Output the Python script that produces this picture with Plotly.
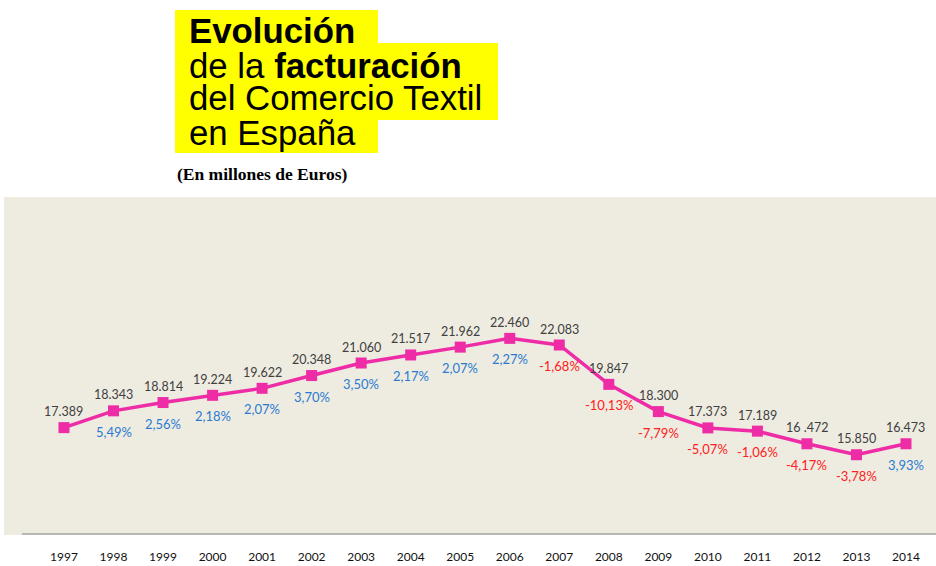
import plotly.graph_objects as go

# ---------------- data ----------------
anios = [1997, 1998, 1999, 2000, 2001, 2002, 2003, 2004, 2005, 2006,
         2007, 2008, 2009, 2010, 2011, 2012, 2013, 2014]
facturacion = [17389, 18343, 18814, 19224, 19622, 20348, 21060, 21517, 21962, 22460,
               22083, 19847, 18300, 17373, 17189, 16472, 15850, 16473]
etiquetas_valor = ["17.389", "18.343", "18.814", "19.224", "19.622", "20.348", "21.060",
                   "21.517", "21.962", "22.460", "22.083", "19.847", "18.300", "17.373",
                   "17.189", "16 .472", "15.850", "16.473"]
variacion = [None, 5.49, 2.56, 2.18, 2.07, 3.70, 3.50, 2.17, 2.07, 2.27,
             -1.68, -10.13, -7.79, -5.07, -1.06, -4.17, -3.78, 3.93]
etiquetas_anio = [str(a) for a in anios]

# ---------------- layout geometry (pixels) ----------------
W, H = 936, 566
PL, PR, PT, PB = 4, 936, 197, 535


def px(x):
    return (x - PL) / (PR - PL)


def py(y):
    return (PB - y) / (PB - PT)


fig = go.Figure()
fig.add_trace(go.Scatter(
    x=anios, y=facturacion, mode="lines+markers",
    line=dict(color="#EE2CA6", width=3.5),
    marker=dict(symbol="square", size=11, color="#EE2CA6"),
    hoverinfo="skip", showlegend=False,
))

annotations = []
lab_font = "Lato, Open Sans, sans-serif"
for a, v, t in zip(anios, facturacion, etiquetas_valor):
    annotations.append(dict(x=a, y=v, xref="x", yref="y", text=t, showarrow=False,
                            yshift=16, font=dict(family=lab_font, size=12.5, color="#404040")))
for a, v, p in zip(anios, facturacion, variacion):
    if p is None:
        continue
    txt = f"{p:.2f}".replace(".", ",") + "%"
    col = "#2A7BD0" if p >= 0 else "#FF2020"
    annotations.append(dict(x=a, y=v, xref="x", yref="y", text=txt, showarrow=False,
                            yshift=-21, font=dict(family=lab_font, size=13, color=col)))

# title block
title_font = "Liberation Sans, Arial, sans-serif"
title_lines = [("<b>Evolución</b>", 30), ("de la <b>facturación</b>", 65),
               ("del Comercio Textil", 98), ("en España", 132)]
for txt, yc in title_lines:
    annotations.append(dict(x=px(187), y=py(yc), xref="paper", yref="paper", text=txt,
                            showarrow=False, xanchor="left", yanchor="middle",
                            font=dict(family=title_font, size=34.8, color="#000000")))
annotations.append(dict(x=px(262), y=py(174), xref="paper", yref="paper",
                        text="<b>(En millones de Euros)</b>", showarrow=False,
                        xanchor="center", yanchor="middle",
                        font=dict(family="Liberation Serif, Times New Roman, serif",
                                  size=17.5, color="#000000")))

shapes = [
    dict(type="rect", xref="paper", yref="paper", x0=px(175), x1=px(378), y0=py(153), y1=py(10),
         fillcolor="#FFFF00", line=dict(width=0), layer="below"),
    dict(type="rect", xref="paper", yref="paper", x0=px(175), x1=px(498), y0=py(120), y1=py(43),
         fillcolor="#FFFF00", line=dict(width=0), layer="below"),
    dict(type="line", xref="paper", yref="paper", x0=px(22), x1=px(936), y0=py(534), y1=py(534),
         line=dict(color="#A6A6A6", width=1.5)),
]

fig.update_layout(
    width=W, height=H, autosize=False,
    margin=dict(l=PL, r=W - PR, t=PT, b=H - PB, pad=0),
    paper_bgcolor="#FFFFFF", plot_bgcolor="#EEEBE1",
    annotations=annotations, shapes=shapes,
    xaxis=dict(range=[1995.789, 2014.606], tickvals=anios, ticktext=etiquetas_anio,
               showgrid=False, zeroline=False, showline=False, ticks="",
               ticklabelstandoff=13,
               tickfont=dict(family=lab_font, size=12, color="#111111"), fixedrange=True),
    yaxis=dict(range=[11290, 30490], visible=False, showgrid=False, zeroline=False,
               fixedrange=True),
)

fig.write_html("out.html")
